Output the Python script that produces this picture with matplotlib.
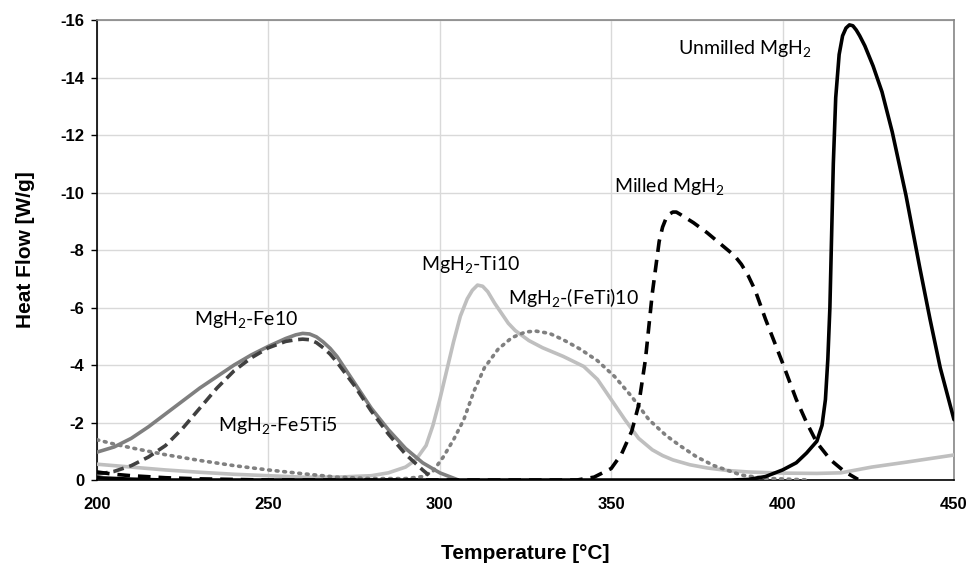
import matplotlib
matplotlib.use("Agg")
import matplotlib.pyplot as plt

# DSC desorption traces, heat flow in W/g (negative = endothermic)
fe10_t = [200, 205, 210, 215, 220, 225, 230, 235, 240, 245, 250, 255, 258, 260, 262, 264, 266, 268, 270, 275, 280, 285, 290, 295, 300, 305]
fe10_q = [-0.97, -1.15, -1.45, -1.85, -2.3, -2.75, -3.2, -3.6, -4.0, -4.35, -4.65, -4.92, -5.05, -5.1, -5.08, -4.98, -4.8, -4.58, -4.3, -3.4, -2.5, -1.75, -1.1, -0.6, -0.25, -0.02]

fe5ti5_t = [200, 205, 210, 215, 220, 225, 230, 235, 240, 245, 250, 255, 258, 260, 262, 264, 266, 268, 270, 275, 280, 285, 290, 295, 298]
fe5ti5_q = [-0.2, -0.3, -0.5, -0.8, -1.2, -1.8, -2.5, -3.2, -3.8, -4.25, -4.6, -4.82, -4.88, -4.9, -4.88, -4.78, -4.6, -4.38, -4.1, -3.3, -2.4, -1.6, -0.9, -0.35, -0.05]

ti10_t = [200, 210, 220, 230, 240, 250, 260, 270, 280, 285, 290, 293, 296, 298, 300, 302, 304, 306, 308, 309.5, 311,
          312.5, 314, 316, 318, 320, 322, 326, 330, 336, 342, 346, 350, 354, 358, 362, 365, 368, 373, 378, 384, 390, 400, 410, 417, 426, 436, 450]
ti10_q = [-0.55, -0.45, -0.35, -0.27, -0.2, -0.15, -0.1, -0.1, -0.15, -0.25, -0.45, -0.7, -1.2, -1.9, -2.8, -3.8, -4.8, -5.7, -6.3, -6.6, -6.78,
          -6.74, -6.55, -6.15, -5.8, -5.45, -5.2, -4.85, -4.6, -4.3, -3.95, -3.5, -2.8, -2.1, -1.45, -1.05, -0.85, -0.7, -0.53, -0.42, -0.33, -0.28, -0.24, -0.23, -0.25, -0.45, -0.62, -0.87]

feti10_t = [200, 205, 210, 220, 230, 240, 250, 260, 270, 280, 290, 295, 298, 301, 304, 307, 310, 313, 317, 321, 325, 328,
            332, 336, 341, 346, 351, 356, 361, 366, 370, 375, 380, 388, 395, 408]
feti10_q = [-1.4, -1.25, -1.12, -0.88, -0.68, -0.5, -0.35, -0.22, -0.1, -0.05, -0.05, -0.12, -0.3, -0.8, -1.4, -2.1, -3.1, -3.9, -4.55, -4.95, -5.15, -5.18,
            -5.1, -4.88, -4.55, -4.15, -3.6, -2.9, -2.1, -1.55, -1.2, -0.8, -0.5, -0.17, -0.06, 0.0]

milled_t = [200, 205, 210, 220, 230, 240, 250, 340, 345, 350, 353, 356, 358, 360, 362, 364, 365, 366, 367, 368, 369, 370, 374, 378,
            383, 386, 388, 390, 392, 395, 400, 404, 407, 410, 414, 418, 422]
milled_q = [-0.28, -0.2, -0.15, -0.08, -0.04, -0.02, 0.0, 0.0, -0.1, -0.4, -0.9, -1.7, -2.6, -4.2, -6.5, -8.3, -8.8, -9.1, -9.25, -9.32, -9.32, -9.25, -8.95, -8.6,
            -8.1, -7.8, -7.5, -7.1, -6.6, -5.6, -4.07, -2.8, -2.0, -1.3, -0.7, -0.3, -0.02]

unmilled_t = [200, 210, 220, 385, 390, 395, 400, 404, 407, 410, 411.5, 412.5, 413.2, 413.8, 414.3, 414.8, 415.5, 416.5, 417.5, 418.5, 419.5, 420.5,
              421.5, 422.5, 424, 426.4, 429, 432, 436, 440, 443, 446, 448, 450]
unmilled_q = [-0.08, -0.03, 0.0, 0.0, -0.02, -0.12, -0.35, -0.6, -0.94, -1.35, -1.9, -2.8, -4.2, -6.0, -8.5, -11.0, -13.3, -14.8, -15.45, -15.72, -15.83, -15.8,
              -15.65, -15.45, -15.1, -14.4, -13.5, -12.1, -9.9, -7.4, -5.6, -3.9, -3.0, -2.1]

x_ticks = [200, 250, 300, 350, 400, 450]
y_ticks = [0, -2, -4, -6, -8, -10, -12, -14, -16]

plt.rcParams["mathtext.fontset"] = "custom"
plt.rcParams["mathtext.rm"] = "Lato"

fig = plt.figure(figsize=(9.69, 5.65), dpi=100)
ax = fig.add_axes([0.1001, 0.1504, 0.8844, 0.8142])

lw = 2.6
common = dict(lw=lw, solid_capstyle="round", solid_joinstyle="round", dash_capstyle="butt")
ax.plot(ti10_t, ti10_q, color="#bfbfbf", **common, zorder=3)
ax.plot(feti10_t, feti10_q, color="#808080", ls=(0, (0.5, 1.6)), lw=lw, dash_capstyle="round", zorder=3)
ax.plot(fe10_t, fe10_q, color="#7f7f7f", **common, zorder=4)
ax.plot(fe5ti5_t, fe5ti5_q, color="#404040", ls=(0, (3.0, 1.6)), lw=lw, zorder=4)
ax.plot(milled_t, milled_q, color="black", ls=(0, (3.5, 2.2)), lw=lw, zorder=5)
ax.plot(unmilled_t, unmilled_q, color="black", **common, zorder=6)

ax.set_xlim(200, 450)
ax.set_ylim(0, -16)
ax.set_xticks(x_ticks, [str(v) for v in x_ticks])
ax.set_yticks(y_ticks, [str(v) for v in y_ticks])
ax.grid(True, color="#d9d9d9", lw=1)
ax.set_axisbelow(True)

for side in ("left", "bottom"):
    ax.spines[side].set_color("black")
    ax.spines[side].set_linewidth(1.2)
for side in ("top", "right"):
    ax.spines[side].set_color("#868686")
    ax.spines[side].set_linewidth(1.2)

ax.tick_params(axis="x", length=0, pad=12, labelsize=12, labelfontfamily="Liberation Sans")
ax.tick_params(axis="y", length=4, width=1, pad=5, direction="out", labelsize=12, labelfontfamily="Liberation Sans")
for lab in ax.get_xticklabels() + ax.get_yticklabels():
    lab.set_fontweight("bold")

ax.set_xlabel("Temperature [°C]", family="Liberation Sans", weight="bold", size=15, labelpad=23)
ax.set_ylabel("Heat Flow [W/g]", family="Liberation Sans", weight="bold", size=15, labelpad=18)

sub = r"$\mathregular{_2}$"
lab_font = dict(family="Lato", size=14, ha="left", va="center")
ax.text(369.5, -15.0, "Unmilled MgH" + sub, **lab_font)
ax.text(350.8, -10.2, "Milled MgH" + sub, **lab_font)
ax.text(294.5, -7.5, "MgH" + sub + "-Ti10", **lab_font)
ax.text(319.9, -6.35, "MgH" + sub + "-(FeTi)10", **lab_font)
ax.text(228.3, -5.6, "MgH" + sub + "-Fe10", **lab_font)
ax.text(235.3, -1.9, "MgH" + sub + "-Fe5Ti5", **lab_font)

fig.savefig("out.png", dpi=100)
